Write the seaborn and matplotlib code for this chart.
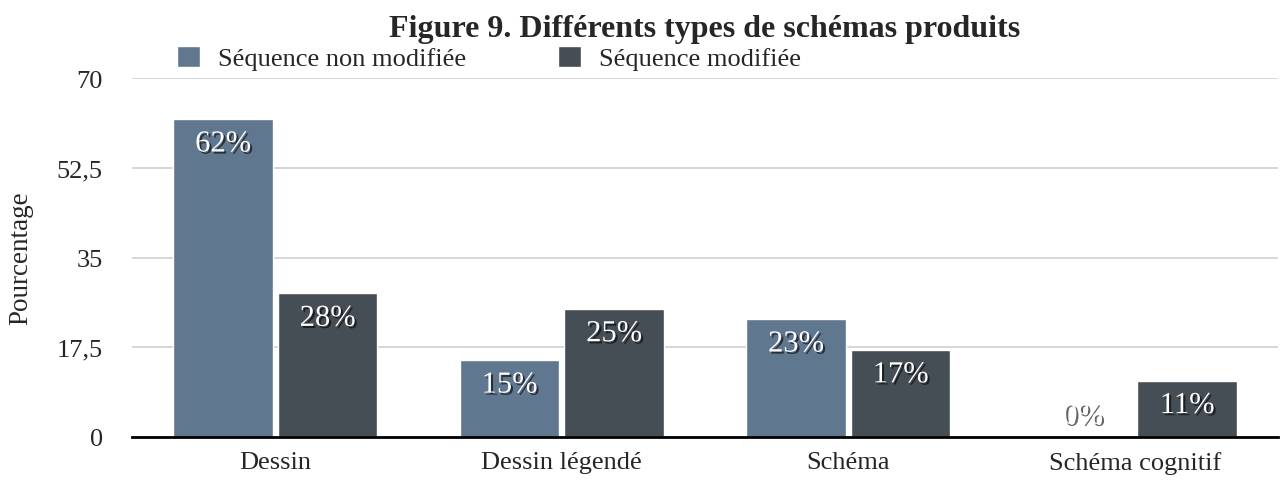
import matplotlib
matplotlib.use("Agg")
import matplotlib.pyplot as plt
import matplotlib.patheffects as pe
from matplotlib.patches import Patch
import pandas as pd
import seaborn as sns

categories = ["Dessin", "Dessin légendé", "Schéma", "Schéma cognitif"]
series = ["Séquence non modifiée", "Séquence modifiée"]
non_modifiee = [62, 15, 23, 0]
modifiee = [28, 25, 17, 11]
yticks = [0, 17.5, 35, 52.5, 70]
ytick_labels = ["0", "17,5", "35", "52,5", "70"]
colors = ["#607790", "#444e54"]

df = pd.DataFrame({
    "Type": categories * 2,
    "Séquence": [series[0]] * 4 + [series[1]] * 4,
    "Pourcentage": non_modifiee + modifiee,
})

sns.set_theme(style="white")
plt.rcParams["font.family"] = ["Liberation Serif", "DejaVu Serif"]

fig = plt.figure(figsize=(12.81, 4.85), dpi=100)
ax = fig.add_axes([132 / 1281, 1 - 438 / 485, 1146 / 1281, 359 / 485])

sns.barplot(data=df, x="Type", y="Pourcentage", hue="Séquence", palette=colors,
            width=0.73, gap=0.045, legend=False, ax=ax, saturation=1, zorder=3)

ax.set_ylim(0, 70)
ax.set_yticks(yticks)
ax.set_yticklabels(ytick_labels)
ax.yaxis.grid(True, color="#cfcfcf", linewidth=1.2, zorder=0)
ax.set_axisbelow(True)
for s in ["left", "right", "top"]:
    ax.spines[s].set_visible(False)
ax.spines["bottom"].set_color("black")
ax.spines["bottom"].set_linewidth(2)
ax.spines["bottom"].set_zorder(5)
ax.tick_params(axis="y", length=0, pad=21, labelsize=19)
ax.tick_params(axis="x", length=0, pad=10, labelsize=19)
ax.set_xlabel("")
ax.set_ylabel("Pourcentage", fontsize=19.5)
ax.yaxis.set_label_coords(-99 / 1146, 0.5)

shadow = [pe.SimplePatchShadow(offset=(1.5, -1.5), shadow_rgbFace="black", alpha=0.6), pe.Normal()]
for cont in ax.containers:
    for bar in cont:
        h = bar.get_height()
        off = -18 if h > 0 else 15
        ax.annotate(f"{h:.0f}%", (bar.get_x() + bar.get_width() / 2, h),
                    xytext=(0, off), textcoords="offset points",
                    ha="center", va="center", fontsize=22,
                    color="white", path_effects=shadow, zorder=6)

handles = [Patch(facecolor=c) for c in colors]
fig.legend(handles, series, loc="center left", bbox_to_anchor=(177 / 1281, 1 - 59 / 485),
           ncol=2, frameon=False, fontsize=19, handlelength=0.87, handleheight=0.87,
           handletextpad=0.68, columnspacing=3.5, borderpad=0, borderaxespad=0)

fig.text(705 / 1281, 1 - 29 / 485, "Figure 9. Différents types de schémas produits",
         ha="center", va="center", fontsize=23, fontweight="bold")

fig.savefig("out.png", dpi=100)
